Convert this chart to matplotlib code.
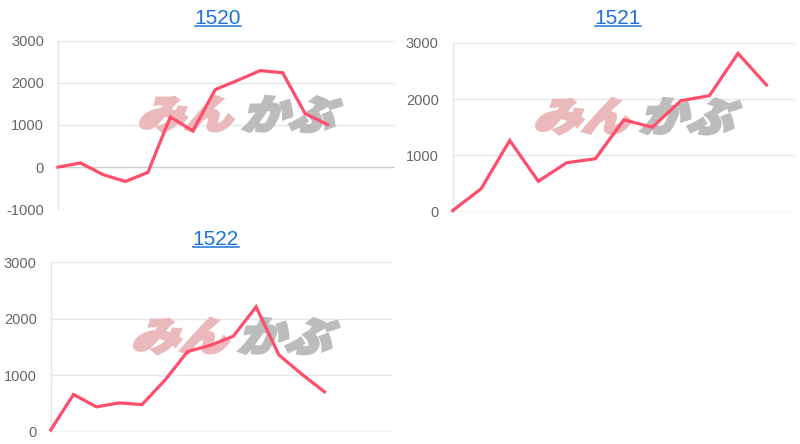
import matplotlib
matplotlib.use("Agg")
from matplotlib import pyplot as plt
from matplotlib.textpath import TextPath
from matplotlib.patches import PathPatch
from matplotlib.font_manager import FontProperties
from matplotlib.transforms import Affine2D
from matplotlib.lines import Line2D

# data
titles = ["1520", "1521", "1522"]
values1520 = [0, 100, -175, -340, -125, 1190, 860, 1840, 2060, 2290, 2240, 1270, 1010]
values1521 = [20, 410, 1265, 540, 870, 940, 1630, 1500, 1970, 2060, 2810, 2250]
values1522 = [30, 660, 440, 510, 480, 910, 1420, 1530, 1690, 2210, 1360, 1020, 705]
ticks1520 = [-1000, 0, 1000, 2000, 3000]
ticksOther = [0, 1000, 2000, 3000]

LINE = "#ff4d6c"
GRID = "#e6e6e6"
ZERO = "#cfcfcf"
TXT = "#666666"
LINK = "#1a73d9"

W, H = 800, 444
plt.rcParams['font.family'] = ['Liberation Sans', 'DejaVu Sans']
plt.rcParams['axes.unicode_minus'] = False


def pxAxes(fig, left, top, right, bottom):
    return fig.add_axes([left / W, 1 - bottom / H, (right - left) / W, (bottom - top) / H])


def addMark(ax, text, color, box):
    # watermark logo, faked with skewed heavy kana
    prop = FontProperties(family="Noto Sans CJK JP", weight="black")
    p = TextPath((0, 0), text, size=100, prop=prop)
    p = p.transformed(Affine2D().skew_deg(16, 0))
    ext = p.get_extents()
    x0, y0, x1, y1 = box
    t = (Affine2D().translate(-ext.x0, -ext.y0)
         .scale((x1 - x0) / ext.width, (y1 - y0) / ext.height)
         .translate(x0, y0))
    p = p.transformed(t)
    ax.add_patch(PathPatch(p, facecolor=color, edgecolor=color, lw=2.2,
                           joinstyle="miter", transform=ax.transAxes,
                           zorder=1.5, clip_on=False))


def styleAxes(ax, ticks, nslots):
    ax.set_xlim(0, nslots - 1)
    ax.set_ylim(ticks[0], ticks[-1])
    ax.set_yticks(ticks)
    ax.set_xticks([])
    for s in ["top", "right", "bottom"]:
        ax.spines[s].set_visible(False)
    ax.spines["left"].set_color(GRID)
    ax.spines["left"].set_linewidth(1)
    for t in ticks:
        ax.axhline(t, color=ZERO if t == 0 else GRID, lw=1, zorder=0.5)
    ax.tick_params(axis="y", length=0, pad=10, labelsize=10.5, labelcolor=TXT)
    addMark(ax, "みん", "#ebb9bc", (0.245, 0.46, 0.52, 0.67))
    addMark(ax, "かぶ", "#bcbcbc", (0.55, 0.46, 0.842, 0.67))


def plotChart(fig, rect, values, ticks, nslots):
    ax = pxAxes(fig, *rect)
    styleAxes(ax, ticks, nslots)
    ax.plot(range(len(values)), values, color=LINE, lw=2.3,
            solid_joinstyle="miter", zorder=3, clip_on=False)
    return ax


def addTitle(fig, text, cx, base):
    t = fig.text(cx / W, 1 - base / H, text, ha="center", va="baseline",
                 fontsize=15, color=LINK)
    fig.canvas.draw()
    bb = t.get_window_extent()
    uy = 1 - (base + 2.3) / H
    fig.add_artist(Line2D([bb.x0 / W, bb.x1 / W], [uy, uy], color=LINK, lw=1.1))


def main():
    fig = plt.figure(figsize=(W / 100, H / 100), dpi=100)
    plotChart(fig, (58, 40.7, 395, 209.3), values1520, ticks1520, 16)
    plotChart(fig, (452.7, 42.7, 795, 211.7), values1521, ticksOther, 13)
    plotChart(fig, (50.7, 262.3, 393, 431.7), values1522, ticksOther, 16)

    addTitle(fig, titles[0], 218, 24)
    addTitle(fig, titles[1], 618, 24)
    addTitle(fig, titles[2], 216, 245)

    fig.savefig("out.png", dpi=100)
    plt.close()


if __name__ == '__main__':
    main()
